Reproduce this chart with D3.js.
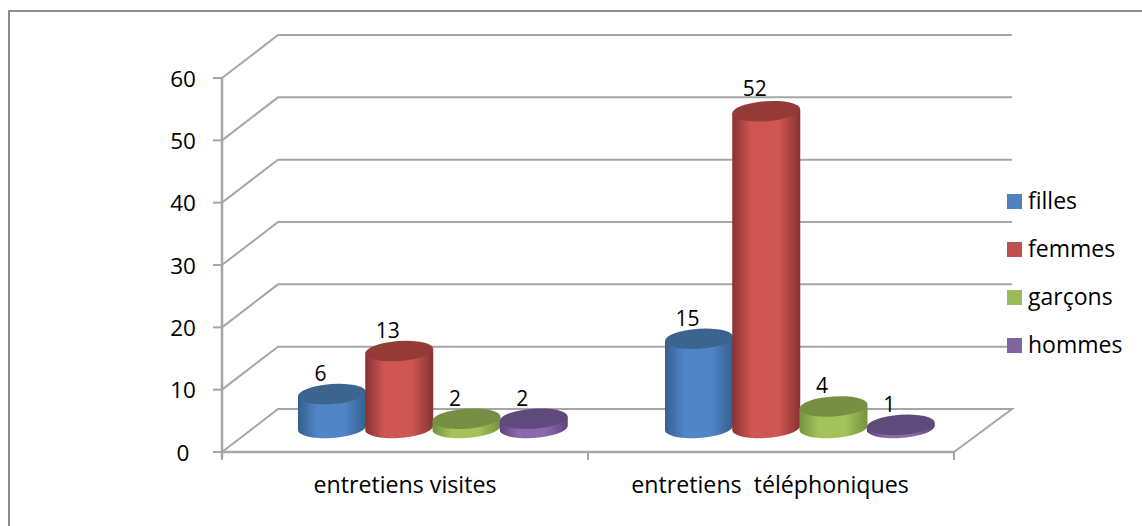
<!DOCTYPE html>
<html><head><meta charset="utf-8">
<script src="https://cdn.jsdelivr.net/npm/d3@7/dist/d3.min.js"></script>
<style>html,body{margin:0;padding:0;background:#fff}svg{display:block}text{font-family:"Open Sans",Lato,sans-serif;fill:#000}</style>
</head><body><svg id="c" width="1142" height="526"></svg>
<script>
const categories = ["entretiens visites", "entretiens  téléphoniques"];
const seriesNames = ["filles", "femmes", "garçons", "hommes"];
const filles = [6, 15];
const femmes = [13, 52];
const garcons = [2, 4];
const hommes = [2, 1];
const yTicks = [0, 10, 20, 30, 40, 50, 60];
const seriesValues = [filles, femmes, garcons, hommes];
const seriesColors = [
  {side:"#5085c8", dark:"#34608f", top:"#3b648f", key:"#4f81bd"},
  {side:"#cf5653", dark:"#863331", top:"#943a37", key:"#c0504d"},
  {side:"#a2c359", dark:"#76913f", top:"#778f42", key:"#9bbb59"},
  {side:"#8a69ad", dark:"#5d4578", top:"#5f4a7c", key:"#8064a2"}
];
const svg = d3.select("#c");
const defs = svg.append("defs");
const grey = "#a6a6a6";

svg.append("path").attr("d","M9,526V11H1142").attr("fill","none").attr("stroke","#8c8c8c").attr("stroke-width",2);

const y = d3.scaleLinear().domain([0,60]).range([452,78]);
const depthX = 56, depthY = -43;
const frontL = 222, frontR = 954;
const x0 = d3.scaleBand().domain(categories).range([frontL,frontR]);

const grid = svg.append("g").attr("fill","none").attr("stroke",grey).attr("stroke-width",2);
yTicks.forEach(t=>{
  const yy = y(t);
  const d = t===0
    ? `M${frontL},${yy}L${frontL+depthX},${yy+depthY}H${frontR+depthX+2}L${frontR},${yy}`
    : `M${frontL},${yy}L${frontL+depthX},${yy+depthY}H${frontR+depthX+2}`;
  grid.append("path").attr("d",d);
  svg.append("line").attr("x1",frontL-9).attr("x2",frontL).attr("y1",yy).attr("y2",yy).attr("stroke",grey).attr("stroke-width",2);
  svg.append("text").attr("x",183).attr("y",yy+8.5).attr("text-anchor","middle").attr("font-size",22.5).text(t);
});
svg.append("line").attr("x1",frontL).attr("x2",frontL).attr("y1",y(60)).attr("y2",y(0)+6).attr("stroke",grey).attr("stroke-width",2.5);
svg.append("line").attr("x1",frontL).attr("x2",frontR).attr("y1",y(0)).attr("y2",y(0)).attr("stroke",grey).attr("stroke-width",2.5);
[frontL,x0(categories[1]),frontR].forEach(v=>{
  svg.append("line").attr("x1",v).attr("x2",v).attr("y1",y(0)).attr("y2",y(0)+8).attr("stroke",grey).attr("stroke-width",2);
});

seriesColors.forEach((c,i)=>{
  const g = defs.append("linearGradient").attr("id","g"+i);
  [[0,c.dark],[0.28,c.side],[0.68,c.side],[1,c.dark]].forEach(s=>g.append("stop").attr("offset",s[0]).attr("stop-color",s[1]));
});

const h = d3.scaleLinear().domain([0,60]).range([0,369]);
const groupStart = [298, 665];
const barW = d3.scaleLinear().domain([0,4]).range([0,269]);
const topBase = 431, baseY = 428, rx = 34, ry = 10, tilt = -4;
categories.forEach((cat,ci)=>{
  seriesNames.forEach((name,si)=>{
    const v = seriesValues[si][ci];
    const cx = groupStart[ci] + barW(si) + rx;
    const top = topBase - h(v);
    const a = tilt*Math.PI/180;
    const lift = rx*Math.sin(-a)*0.8;
    const g = svg.append("g");
    g.append("path")
      .attr("d",`M${cx-rx},${Math.min(top,baseY)+lift}L${cx-rx},${baseY+lift}A${rx},${ry} ${tilt} 0 0 ${cx+rx},${baseY-lift}L${cx+rx},${Math.min(top,baseY)-lift}Z`)
      .attr("fill",`url(#g${si})`);
    g.append("ellipse").attr("cx",cx).attr("cy",top).attr("rx",rx).attr("ry",ry)
      .attr("transform",`rotate(${tilt} ${cx} ${top})`).attr("fill",seriesColors[si].top);
    svg.append("text").attr("x",cx-11.5).attr("y",top-(v>50?15:13)).attr("text-anchor","middle").attr("font-size",21).text(v);
  });
});

[405,770].forEach((px,i)=>{
  svg.append("text").attr("x",px).attr("y",493).attr("text-anchor","middle").style("white-space","pre").attr("font-size",23.2).text(categories[i]);
});

const legendY = d3.scalePoint().domain(seriesNames).range([201.5,345.5]);
seriesNames.forEach((n,i)=>{
  svg.append("rect").attr("x",1007).attr("y",legendY(n)-7.5).attr("width",15).attr("height",15).attr("fill",seriesColors[i].key);
  svg.append("text").attr("x",1028).attr("y",legendY(n)+7.5).attr("font-size",23).text(n);
});
</script></body></html>
